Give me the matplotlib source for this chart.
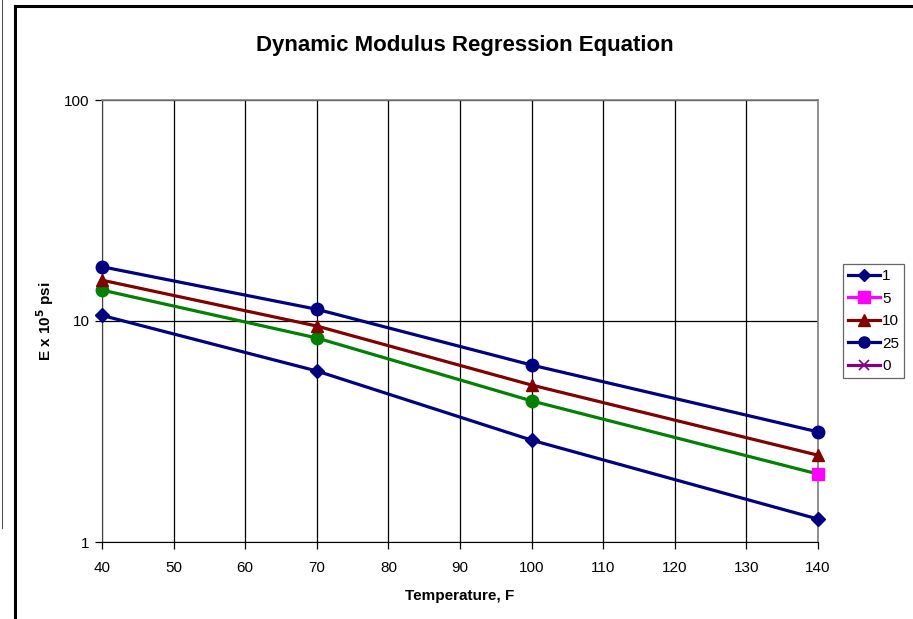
import matplotlib
matplotlib.use('Agg')
import matplotlib.pyplot as plt
from matplotlib.lines import Line2D
from matplotlib.ticker import FixedLocator, NullLocator, FixedFormatter

plt.rcParams['font.family'] = ['Liberation Sans', 'DejaVu Sans']

# ---- data ----
temps = [40, 70, 100, 140]
freq_labels = ['1', '5', '10', '25', '0']
e_1hz = [10.6, 5.94, 2.89, 1.27]
e_5hz = [13.8, 8.38, 4.35, 2.03]
e_10hz = [15.3, 9.49, 5.13, 2.47]
e_25hz = [17.6, 11.3, 6.32, 3.15]
x_ticks = [40, 50, 60, 70, 80, 90, 100, 110, 120, 130, 140]
y_ticks = [1, 10, 100]

W, H = 913, 619
fig = plt.figure(figsize=(W / 100, H / 100), dpi=100)

# outer chart frames (Excel style)
fig.add_artist(Line2D([1.5 / W, 1.5 / W], [1, 1 - 528 / H], color='#555555', lw=0.8))
fig.add_artist(Line2D([15 / W, 15 / W], [0, 1 - 6 / H], color='black', lw=2.2))
fig.add_artist(Line2D([15 / W, 1], [1 - 6 / H, 1 - 6 / H], color='black', lw=2.2))

ax = fig.add_axes([102 / W, 1 - 542 / H, (818 - 102) / W, (542 - 100) / H])
ax.set_yscale('log')
ax.set_xlim(40, 140)
ax.set_ylim(1, 100)

NAVY = '#000080'
MAG = '#FF00FF'
RED = '#800000'
GREEN = '#008000'
PURP = '#800080'
lw = 2.3

ax.plot(temps, e_1hz, color=NAVY, lw=lw, marker='D', ms=7, zorder=5, clip_on=False)
ax.plot(temps, e_5hz, color=GREEN, lw=lw, zorder=4, clip_on=False)
ax.plot(temps[:-1], e_5hz[:-1], ls='none', marker='o', ms=9, color=GREEN, zorder=5, clip_on=False)
ax.plot(temps[-1:], e_5hz[-1:], ls='none', marker='s', ms=9, color=MAG, zorder=5, clip_on=False)
ax.plot(temps, e_10hz, color=RED, lw=lw, marker='^', ms=9, zorder=5, clip_on=False)
ax.plot(temps, e_25hz, color=NAVY, lw=lw, marker='o', ms=9, zorder=5, clip_on=False)

ax.xaxis.set_major_locator(FixedLocator(x_ticks))
ax.yaxis.set_major_locator(FixedLocator(y_ticks))
ax.yaxis.set_major_formatter(FixedFormatter([str(v) for v in y_ticks]))
ax.yaxis.set_minor_locator(NullLocator())
ax.grid(True, which='major', color='black', lw=0.9)
ax.set_axisbelow(True)
ax.tick_params(direction='out', length=5, width=0.9, labelsize=11, pad=4)
ax.tick_params(axis='x', pad=9)

for side in ['top', 'right']:
    ax.spines[side].set_color('#808080')
    ax.spines[side].set_linewidth(1.2)
ax.spines['left'].set_color('#404040')
ax.spines['bottom'].set_color('black')

ax.set_xlabel('Temperature, F', fontsize=11, fontweight='bold', labelpad=10)
ax.set_ylabel(r'E x 10$^{\mathbf{5}}$ psi', fontsize=11, fontweight='bold', labelpad=6)

fig.text(465 / W, 1 - 45 / H, 'Dynamic Modulus Regression Equation',
         ha='center', va='center', fontsize=16, fontweight='bold')

handles = [
    Line2D([], [], color=NAVY, lw=lw, marker='D', ms=6),
    Line2D([], [], color=MAG, lw=lw, marker='s', ms=8),
    Line2D([], [], color=RED, lw=lw, marker='^', ms=8),
    Line2D([], [], color=NAVY, lw=lw, marker='o', ms=8),
    Line2D([], [], color=PURP, lw=lw, marker='x', ms=7, mew=1.2),
]
leg = fig.legend(handles, freq_labels, loc='upper left',
                 bbox_to_anchor=(843 / W, 1 - 264 / H), fontsize=11,
                 frameon=True, fancybox=False, edgecolor='#404040',
                 handlelength=2.1, handletextpad=0.1, labelspacing=0.55,
                 borderpad=0.35, borderaxespad=0)
leg.get_frame().set_linewidth(0.9)

fig.savefig('out.png', dpi=100)
